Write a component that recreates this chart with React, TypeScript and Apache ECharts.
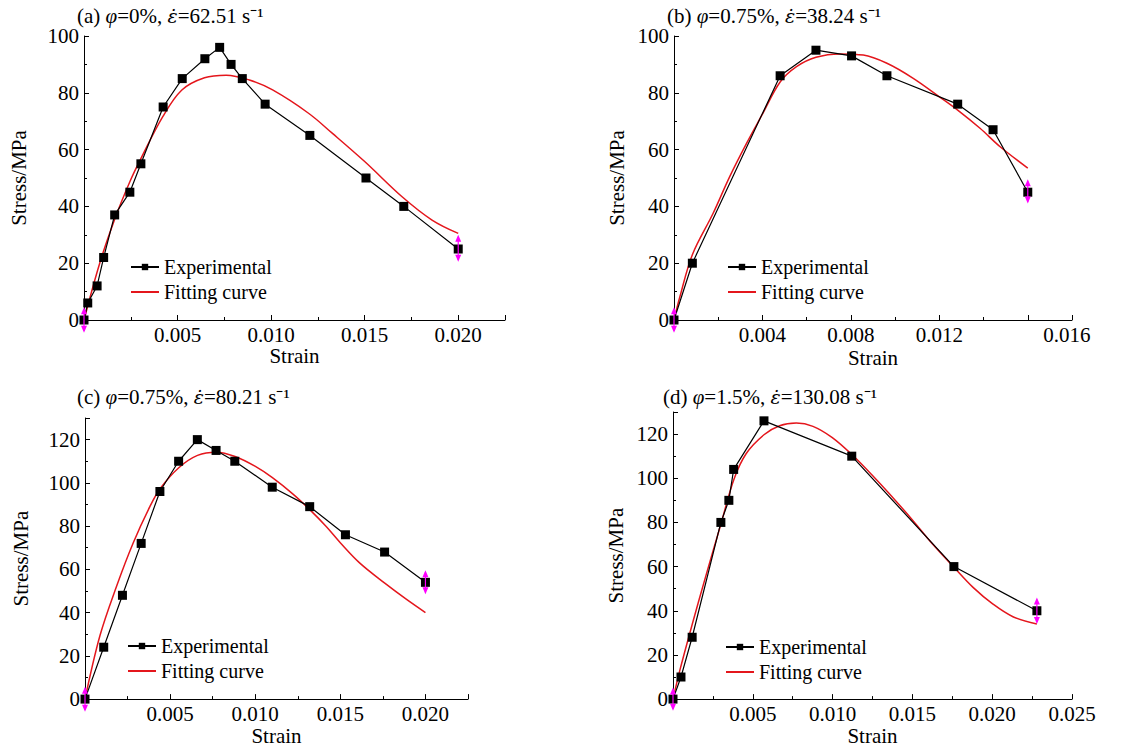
import React, { useEffect, useRef } from "react";
import * as echarts from "echarts";

const FONT = '"Liberation Serif", "Times New Roman", serif';
const RED = "#e4161c";
const MAGENTA = "#ff00ff";

// ---------- Panel (a) phi=0%, 62.51 1/s ----------
const A_EXP_STRAIN = [0, 0.0002, 0.0007, 0.00105, 0.00164, 0.00245, 0.00304, 0.00423, 0.00525, 0.00646, 0.00725, 0.00786, 0.00846, 0.00968, 0.01207, 0.01507, 0.01709, 0.02];
const A_EXP_STRESS = [0, 6, 12, 22, 37, 45, 55, 75, 85, 92, 96, 90, 85, 76, 65, 50, 40, 25];
const A_FIT_STRAIN = [0, 0.00084, 0.00164, 0.00245, 0.003, 0.00421, 0.00523, 0.00644, 0.0076, 0.00884, 0.01008, 0.012, 0.01328, 0.015, 0.017, 0.0186, 0.02];
const A_FIT_STRESS = [0, 20, 35.5, 48.7, 56.3, 71.6, 81, 85.3, 86.2, 84.5, 81, 72.8, 65.7, 55.8, 43.4, 35.2, 30.5];
// [strain, lower stress, upper stress] of the magenta range arrows
const A_ARROWS = [[0, -4.5, 4.5], [0.02, 20.5, 30]];

// ---------- Panel (b) phi=0.75%, 38.24 1/s ----------
const B_EXP_STRAIN = [0, 0.00083, 0.0048, 0.00642, 0.00803, 0.00963, 0.01283, 0.01443, 0.016];
const B_EXP_STRESS = [0, 20, 86, 95, 93, 86, 76, 67, 45];
const B_FIT_STRAIN = [0, 0.00026, 0.00083, 0.00177, 0.00252, 0.00328, 0.00398, 0.0048, 0.00554, 0.00642, 0.0075, 0.00856, 0.00963, 0.01082, 0.012, 0.01283, 0.01384, 0.01475, 0.016];
const B_FIT_STRESS = [0, 8, 23, 37.6, 50.5, 62.2, 72.2, 83.8, 89.2, 92.5, 93.7, 93.3, 90.4, 85.1, 78.6, 73.9, 67.5, 61, 53.5];
const B_ARROWS = [[0, -4.5, 4.5], [0.016, 41, 49.6]];

// ---------- Panel (c) phi=0.75%, 80.21 1/s ----------
const C_EXP_STRAIN = [0, 0.0011, 0.0022, 0.0033, 0.0044, 0.0055, 0.0066, 0.0077, 0.0088, 0.011, 0.0132, 0.0153, 0.0176, 0.02];
const C_EXP_STRESS = [0, 24, 48, 72, 96, 110, 120, 115, 110, 98, 89, 76, 68, 54];
const C_FIT_STRAIN = [0, 0.00088, 0.00186, 0.00283, 0.00381, 0.00442, 0.00551, 0.00661, 0.00772, 0.00882, 0.01001, 0.01101, 0.01222, 0.01322, 0.01417, 0.01501, 0.01613, 0.01763, 0.01887, 0.02];
const C_FIT_STRESS = [0, 29.4, 52.3, 72.2, 89, 97.4, 107, 112.7, 114.2, 112.2, 107.6, 102.4, 94.8, 87.5, 79.8, 72.2, 63, 53.5, 46.2, 40];
const C_ARROWS = [[0, -5.8, 5.7], [0.02, 48.5, 59.6]];

// ---------- Panel (d) phi=1.5%, 130.08 1/s ----------
const D_EXP_STRAIN = [0, 0.0005, 0.0012, 0.003, 0.0035, 0.0038, 0.0057, 0.0112, 0.0176, 0.0228];
const D_EXP_STRESS = [0, 10, 28, 80, 90, 104, 126, 110, 60, 40];
const D_FIT_STRAIN = [0, 0.00042, 0.00121, 0.00209, 0.00303, 0.00382, 0.00459, 0.0057, 0.00668, 0.00773, 0.00877, 0.00996, 0.01124, 0.01253, 0.01399, 0.01504, 0.01629, 0.01763, 0.0188, 0.02005, 0.0213, 0.0228];
const D_FIT_STRESS = [0, 12.8, 34, 56.6, 80, 99.6, 111.2, 119.7, 123.8, 125, 123.5, 118.5, 110.5, 101, 89.5, 80.8, 70, 59.5, 50.6, 43, 37.3, 34];
const D_ARROWS = [[0, -5.3, 5.3], [0.0228, 34, 46]];

const TITLES = [
  "(a) {i|φ}=0%, {e|ε̇}=62.51 s⁻¹",
  "(b) {i|φ}=0.75%, {e|ε̇}=38.24 s⁻¹",
  "(c) {i|φ}=0.75%, {e|ε̇}=80.21 s⁻¹",
  "(d) {i|φ}=1.5%, {e|ε̇}=130.08 s⁻¹",
];
const SERIES_NAMES = ["Experimental", "Fitting curve"];
const X_NAME = "Strain";
const Y_NAME = "Stress/MPa";

const zip = (xs: number[], ys: number[]) => xs.map((x, i) => [x, ys[i]]);

const PANELS = [
  {
    grid: { left: 84, top: 36, width: 421, height: 284 },
    xMax: 0.0225, xInt: 0.005, yMax: 100,
    exp: zip(A_EXP_STRAIN, A_EXP_STRESS), fit: zip(A_FIT_STRAIN, A_FIT_STRESS), arrows: A_ARROWS,
    title: { left: 77, top: 5 }, legend: { left: 130, top: 257 },
    xGap: 22, yGap: 55,
  },
  {
    grid: { left: 674, top: 36, width: 398, height: 284 },
    xMax: 0.018, xInt: 0.004, yMax: 100,
    exp: zip(B_EXP_STRAIN, B_EXP_STRESS), fit: zip(B_FIT_STRAIN, B_FIT_STRESS), arrows: B_ARROWS,
    title: { left: 667, top: 5 }, legend: { left: 727, top: 257 },
    xGap: 27, yGap: 47,
  },
  {
    grid: { left: 85, top: 418, width: 383, height: 283 },
    xMax: 0.0225, xInt: 0.005, yMax: 130,
    exp: zip(C_EXP_STRAIN, C_EXP_STRESS), fit: zip(C_FIT_STRAIN, C_FIT_STRESS), arrows: C_ARROWS,
    title: { left: 77, top: 386 }, legend: { left: 127, top: 636 },
    xGap: 24, yGap: 54,
  },
  {
    grid: { left: 673, top: 412, width: 399, height: 290 },
    xMax: 0.025, xInt: 0.005, yMax: 130,
    exp: zip(D_EXP_STRAIN, D_EXP_STRESS), fit: zip(D_FIT_STRAIN, D_FIT_STRESS), arrows: D_ARROWS,
    title: { left: 663, top: 386 }, legend: { left: 725, top: 637 },
    xGap: 16, yGap: 47,
  },
];

const axisCommon = {
  axisLine: { show: true, onZero: false, lineStyle: { color: "#000", width: 1 } },
  axisTick: { show: true, inside: true, length: 5, lineStyle: { color: "#000" } },
  minorTick: { show: true, splitNumber: 2, length: 3, lineStyle: { color: "#000" } },
  splitLine: { show: false },
  minorSplitLine: { show: false },
  nameLocation: "middle" as const,
  nameTextStyle: { fontFamily: FONT, fontSize: 21, color: "#000" },
};

function renderArrow(params: any, api: any) {
  const x = api.value(0);
  const lo = api.coord([x, api.value(1)]);
  const hi = api.coord([x, api.value(2)]);
  const hw = 3;
  const hl = 7;
  return {
    type: "group",
    children: [
      {
        type: "line",
        shape: { x1: lo[0], y1: lo[1] - 2, x2: hi[0], y2: hi[1] + 2 },
        style: { stroke: MAGENTA, lineWidth: 1.2 },
      },
      {
        type: "polygon",
        shape: { points: [[lo[0] - hw, lo[1] - hl], [lo[0] + hw, lo[1] - hl], [lo[0], lo[1]]] },
        style: { fill: MAGENTA },
      },
      {
        type: "polygon",
        shape: { points: [[hi[0] - hw, hi[1] + hl], [hi[0] + hw, hi[1] + hl], [hi[0], hi[1]]] },
        style: { fill: MAGENTA },
      },
    ],
  };
}

function buildOption() {
  const grid: any[] = [];
  const xAxis: any[] = [];
  const yAxis: any[] = [];
  const series: any[] = [];
  const title: any[] = [];
  const legend: any[] = [];

  PANELS.forEach((p, i) => {
    grid.push({ ...p.grid, containLabel: false });
    xAxis.push({
      ...axisCommon,
      type: "value",
      gridIndex: i,
      min: 0,
      max: p.xMax,
      interval: p.xInt,
      name: X_NAME,
      nameGap: p.xGap,
      axisLabel: {
        margin: 4,
        fontFamily: FONT,
        fontSize: 21,
        color: "#000",
        showMaxLabel: i === 3,
        formatter: (v: number) => {
          if (v === 0) return "";
          if (i === 1 && Math.abs(v - 0.016) < 1e-9) return "{s|0.016}";
          return v.toFixed(3);
        },
        rich: { s: { fontFamily: FONT, fontSize: 21, color: "#000", padding: [0, 0, 0, 78] } },
      },
    });
    yAxis.push({
      ...axisCommon,
      type: "value",
      gridIndex: i,
      min: 0,
      max: p.yMax,
      interval: 20,
      name: Y_NAME,
      nameGap: p.yGap,
      axisLabel: {
        margin: 5,
        fontFamily: FONT,
        fontSize: 21,
        color: "#000",
        showMaxLabel: p.yMax % 20 === 0,
      },
    });
    series.push({
      type: "line",
      name: SERIES_NAMES[1],
      xAxisIndex: i,
      yAxisIndex: i,
      data: p.fit,
      symbol: "none",
      smooth: 0.35,
      itemStyle: { color: RED },
      lineStyle: { color: RED, width: 1.5 },
      z: 2,
    });
    series.push({
      type: "line",
      name: SERIES_NAMES[0],
      xAxisIndex: i,
      yAxisIndex: i,
      data: p.exp,
      symbol: "rect",
      symbolSize: 9,
      itemStyle: { color: "#000" },
      lineStyle: { color: "#000", width: 1.2 },
      z: 3,
    });
    series.push({
      type: "custom",
      name: "range",
      xAxisIndex: i,
      yAxisIndex: i,
      data: p.arrows,
      encode: { x: 0, y: [1, 2] },
      renderItem: renderArrow,
      clip: false,
      silent: true,
      z: 6,
    });
    title.push({
      text: TITLES[i],
      left: p.title.left,
      top: p.title.top,
      padding: 0,
      textStyle: {
        fontFamily: FONT,
        fontSize: 21,
        fontWeight: "normal",
        color: "#000",
        rich: {
          i: { fontFamily: FONT, fontSize: 21, fontStyle: "italic", color: "#000" },
          e: { fontFamily: '"DejaVu Serif", serif', fontSize: 19, fontStyle: "italic", color: "#000" },
        },
      },
    });
    legend.push({
      data: [
        { name: SERIES_NAMES[0] },
        { name: SERIES_NAMES[1], itemStyle: { opacity: 0, color: "rgba(0,0,0,0)", borderWidth: 0 } },
      ],
      orient: "vertical",
      left: p.legend.left,
      top: p.legend.top,
      padding: 0,
      itemWidth: 28,
      itemHeight: 8,
      itemGap: 5,
      selectedMode: false,
      textStyle: { fontFamily: FONT, fontSize: 20, color: "#000" },
    });
  });

  return {
    animation: false,
    backgroundColor: "#fff",
    grid,
    xAxis,
    yAxis,
    series,
    title,
    legend,
  };
}

export default function App() {
  const ref = useRef<HTMLDivElement>(null);
  useEffect(() => {
    if (!ref.current) return;
    const chart = echarts.init(ref.current, undefined, { renderer: "svg" });
    chart.setOption(buildOption() as any);
    return () => chart.dispose();
  }, []);
  return (
    <div
      ref={ref}
      style={{ position: "fixed", left: 0, top: 0, width: 1132, height: 747, background: "#fff" }}
    />
  );
}
